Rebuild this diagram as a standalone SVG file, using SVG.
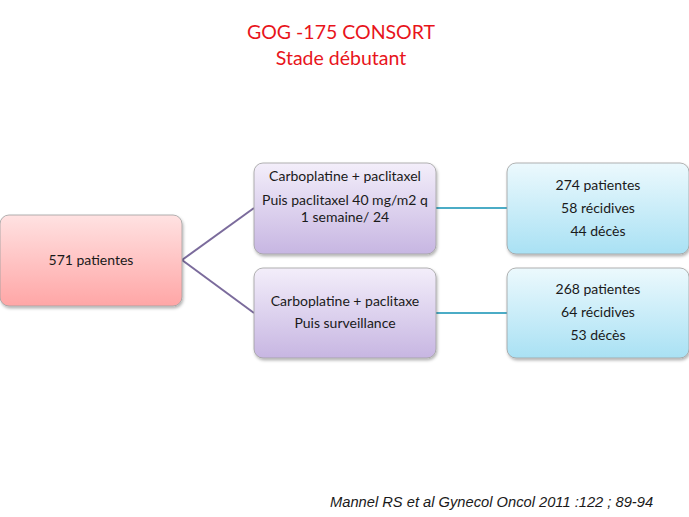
<svg xmlns="http://www.w3.org/2000/svg" width="689" height="517" viewBox="0 0 689 517">
<defs>
<linearGradient id="gRed" x1="0" y1="0" x2="0" y2="1"><stop offset="0" stop-color="#ffe2e2"/><stop offset="1" stop-color="#ffa6a6"/></linearGradient>
<linearGradient id="gPur" x1="0" y1="0" x2="0" y2="1"><stop offset="0" stop-color="#f3eefa"/><stop offset="1" stop-color="#c7b6e2"/></linearGradient>
<linearGradient id="gBlu" x1="0" y1="0" x2="0" y2="1"><stop offset="0" stop-color="#ecf9fd"/><stop offset="1" stop-color="#a9e1f4"/></linearGradient>
<filter id="sh" x="-10%" y="-10%" width="125%" height="130%"><feDropShadow dx="1" dy="2" stdDeviation="1.5" flood-color="#000" flood-opacity="0.3"/></filter>
</defs>
<style>
.t{font-family:Lato,"Open Sans","Liberation Sans",sans-serif;font-size:14px;fill:#1a1a1a;text-anchor:middle}
.title{font-family:Lato,"Open Sans","Liberation Sans",sans-serif;font-size:19.5px;fill:#e8141b;text-anchor:middle}
.box{stroke:#a0a0a0;stroke-width:0.8;filter:url(#sh)}
.cite{font-family:"Liberation Sans",Arial,sans-serif;font-size:14.7px;font-style:italic;fill:#1a1a1a}
</style>
<rect width="689" height="517" fill="#fff"/>
<text class="title" x="341" y="39">GOG -175 CONSORT</text>
<text class="title" x="341" y="65">Stade débutant</text>
<g id="connectors" fill="none" stroke-width="2">
<path d="M182 260 L254 208" stroke="#7b6b9c"/>
<path d="M182 260 L254 313" stroke="#7b6b9c"/>
<path d="M436 208 L507 208" stroke="#4bacc6"/>
<path d="M436 313 L507 313" stroke="#4bacc6"/>
</g>
<g id="n571">
<rect class="box" x="0" y="215" width="182" height="91" rx="9" fill="url(#gRed)"/>
<text class="t" x="91" y="265">571 patientes</text>
</g>
<g id="armA">
<rect class="box" x="254" y="163" width="182" height="91" rx="9" fill="url(#gPur)"/>
<text class="t" x="345" y="181">Carboplatine + paclitaxel</text>
<text class="t" x="345" y="205">Puis paclitaxel 40 mg/m2 q</text>
<text class="t" x="345" y="222">1 semaine/ 24</text>
</g>
<g id="armB">
<rect class="box" x="254" y="268" width="182" height="90" rx="9" fill="url(#gPur)"/>
<text class="t" x="345" y="306">Carboplatine + paclitaxe</text>
<text class="t" x="345" y="328">Puis surveillance</text>
</g>
<g id="resA">
<rect class="box" x="507" y="163" width="182" height="91" rx="9" fill="url(#gBlu)"/>
<text class="t" x="598" y="190">274 patientes</text>
<text class="t" x="598" y="213">58 récidives</text>
<text class="t" x="598" y="236">44 décès</text>
</g>
<g id="resB">
<rect class="box" x="507" y="268" width="182" height="90" rx="9" fill="url(#gBlu)"/>
<text class="t" x="598" y="294">268 patientes</text>
<text class="t" x="598" y="317">64 récidives</text>
<text class="t" x="598" y="340">53 décès</text>
</g>
<text class="cite" x="330" y="507">Mannel RS et al Gynecol Oncol 2011 :122 ; 89-94</text>
</svg>
